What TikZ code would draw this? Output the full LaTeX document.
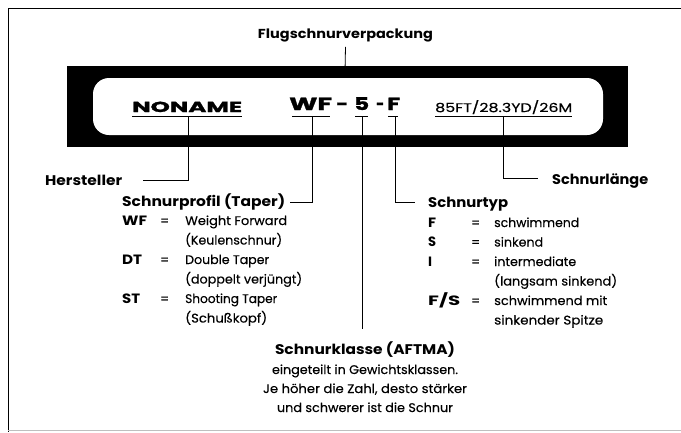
\documentclass[tikz,border=0pt]{standalone}
\usepackage{fontspec}
\setmainfont{Poppins}
\newfontfamily\bodyf[FakeBold=0.3]{Poppins}
\newfontfamily\heavyf[BoldFeatures={FakeBold=1.2}]{Poppins}
\usepackage{graphicx}
\newcommand\fw[2]{\resizebox{#1pt}{\height}{#2}}
\begin{document}
\begin{tikzpicture}[x=1pt,y=-1pt,
  txt/.style={inner sep=0pt, anchor=base west},
  ctxt/.style={inner sep=0pt, anchor=base},
  head/.style={txt, font=\bfseries\fontsize{14}{16}\selectfont},
  chead/.style={ctxt, font=\bfseries\fontsize{14}{16}\selectfont},
  body/.style={txt, font=\bodyf\fontsize{12.5}{14}\selectfont},
  cbody/.style={ctxt, font=\bodyf\fontsize{12.5}{14}\selectfont},
  key/.style={txt, font=\bfseries\fontsize{13.5}{15}\selectfont},
  big/.style={txt, font=\heavyf\bfseries\fontsize{17.5}{19}\selectfont},
  conn/.style={line width=0.8pt},
  uline/.style={line width=1.3pt}]
\useasboundingbox (0,0) rectangle (681,432);
% frame
\draw[line width=1pt] (681,8) -- (8,8) -- (8,432);
\draw[line width=0.8pt, black!25] (8,430) -- (681,430);
% package band
\fill (67,66) rectangle (628,147);
\fill[white, rounded corners=16pt] (93,78) rectangle (603,135);
% top label
\node[ctxt, font=\bfseries\fontsize{13}{15}\selectfont] (flug) at (345.5,38) {\fw{175}{Flugschnurverpackung}};
\coordinate (flugB) at (345,72);
\draw[conn] ([yshift=-5pt]flug.south) -- (flugB);
% package texts
\node[txt, font=\heavyf\bfseries\fontsize{14.5}{16}\selectfont] (noname) at (132,112) {\fw{110}{NONAME}};
\node[big] (wf) at (289,110) {\fw{43}{WF}};
\node[big] (d1) at (336,110) {\fw{12}{-}};
\node[big] (five) at (354,110) {\fw{15}{5}};
\node[big] (d2) at (376,110) {\fw{8}{-}};
\node[big] (eff) at (387,110) {\fw{13}{F}};
\node[txt, font=\bodyf\fontsize{12.5}{14}\selectfont] (len) at (435,112) {\fw{137}{85FT/28.3YD/26M}};
% underlines
\draw[uline] (132,116.5) -- (242,116.5);
\draw[uline] (292,116.5) -- (330,116.5);
\draw[uline] (355,116.5) -- (368,116.5);
\draw[uline] (388,116.5) -- (398,116.5);
\draw[uline] (435,116.5) -- (572,116.5);
% labels
\node[head] (herst) at (45,185) {\fw{77}{Hersteller}};
\node[head] (profil) at (122,206) {\fw{163}{Schnurprofil (Taper)}};
\node[head] (typ) at (428,207) {\fw{80}{Schnurtyp}};
\node[head] (laenge) at (552,184) {\fw{96}{Schnurlänge}};
\node[chead] (klasse) at (365,354) {\fw{180}{Schnurklasse (AFTMA)}};
% connector coordinates
\coordinate (nnU) at (188,117);
\coordinate (hsE) at (143,180);
\coordinate (wfU) at (312,117);
\coordinate (prE) at (290,202);
\coordinate (fvU) at (362.5,117);
\coordinate (klT) at (362.5,329);
\coordinate (efU) at (395.5,117);
\coordinate (tyW) at (415,202);
\coordinate (lnU) at (503,117);
\coordinate (laW) at (538,178);
\draw[conn] (nnU) |- (hsE);
\draw[conn] (wfU) |- (prE);
\draw[conn] (fvU) -- (klT);
\draw[conn] (efU) |- (tyW);
\draw[conn] (lnU) |- (laW);
% Schnurprofil list
\node[key] (kwf) at (122,225) {\fw{25}{WF}};
\node[body] (ewf) at (160,225) {=};
\node[body] (vwf1) at (185,225) {\fw{102}{Weight Forward}};
\node[body] (vwf2) at (185,244.5) {\fw{97}{(Keulenschnur)}};
\node[key] (kdt) at (122,264) {\fw{20}{DT}};
\node[body] (edt) at (160,264) {=};
\node[body] (vdt1) at (185,264) {\fw{84}{Double Taper}};
\node[body] (vdt2) at (185,283.5) {\fw{117}{(doppelt verjüngt)}};
\node[key] (kst) at (122,303) {\fw{18}{ST}};
\node[body] (est) at (160,303) {=};
\node[body] (vst1) at (185,303) {\fw{92}{Shooting Taper}};
\node[body] (vst2) at (185,322.5) {\fw{82}{(Schußkopf)}};
% Schnurtyp list
\node[key] (kf) at (428,227) {\fw{8}{F}};
\node[body] (ef) at (471,227) {=};
\node[body] (vf) at (494,227) {\fw{85}{schwimmend}};
\node[key] (ks) at (428,246.5) {\fw{8}{S}};
\node[body] (es) at (471,246.5) {=};
\node[body] (vs) at (494,246.5) {\fw{49}{sinkend}};
\node[key] (ki) at (428,266) {I};
\node[body] (ei) at (471,266) {=};
\node[body] (vi1) at (494,266) {\fw{82}{intermediate}};
\node[body] (vi2) at (494,285.5) {\fw{123}{(langsam sinkend)}};
\node[key] (kfs) at (428,305) {\fw{32}{F/S}};
\node[body] (efs) at (471,305) {=};
\node[body] (vfs1) at (494,305) {\fw{113}{schwimmend mit}};
\node[body] (vfs2) at (494,324.5) {\fw{109}{sinkender Spitze}};
% Schnurklasse text
\node[cbody] (kl1) at (365,374) {\fw{186}{eingeteilt in Gewichtsklassen.}};
\node[cbody] (kl2) at (365,393) {\fw{204}{Je höher die Zahl, desto stärker}};
\node[cbody] (kl3) at (365,412) {\fw{176}{und schwerer ist die Schnur}};
\end{tikzpicture}
\end{document}
